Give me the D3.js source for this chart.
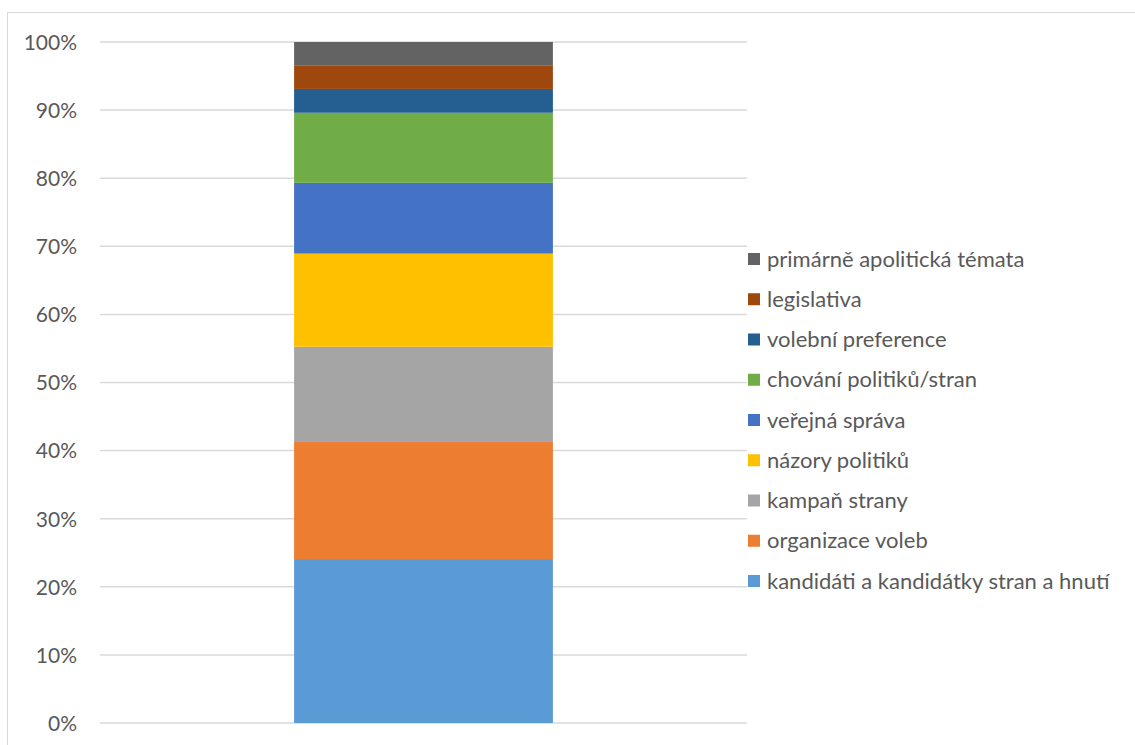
<!DOCTYPE html>
<html><head><meta charset="utf-8">
<script src="https://cdn.jsdelivr.net/npm/d3@7"></script>
<style>body{margin:0;background:#fff}svg{display:block}</style>
</head><body>
<svg id="c" width="1135" height="745"></svg>
<script>
const categories = ["kandidáti a kandidátky stran a hnutí","organizace voleb","kampaň strany","názory politiků","veřejná správa","chování politiků/stran","volební preference","legislativa","primárně apolitická témata"];
const values = [24.1,17.2,14.0,13.7,10.4,10.3,3.5,3.4,3.5];
const colors = ["#5B9BD5","#ED7D31","#A5A5A5","#FFC000","#4472C4","#70AD47","#255E91","#9E480E","#636363"];
const yTicks = [0,0.1,0.2,0.3,0.4,0.5,0.6,0.7,0.8,0.9,1.0];

const svg = d3.select("#c");
const font = "Lato, 'Open Sans', sans-serif";
svg.append("rect").attr("x",7.5).attr("y",12.5).attr("width",1140).attr("height",760)
  .attr("fill","none").attr("stroke","#d9d9d9").attr("stroke-width",1);

const y = d3.scaleLinear().domain([0,1]).range([723,42]);
const x = d3.scaleBand().domain(["s"]).range([100,747]).paddingInner(0.6).paddingOuter(0.3);

const row = {s:"s"}; categories.forEach((c,i)=>row[c]=values[i]);
const stack = d3.stack().keys(categories).offset(d3.stackOffsetExpand)([row]);

const g = svg.append("g");
g.selectAll("line.grid").data(yTicks).join("line")
  .attr("x1",100).attr("x2",747).attr("y1",d=>y(d)).attr("y2",d=>y(d))
  .attr("stroke","#d9d9d9").attr("stroke-width",1.5);

const yAxis = d3.axisLeft(y).tickValues(yTicks).tickFormat(d3.format(".0%")).tickSize(0).tickPadding(0);
const ax = svg.append("g").attr("transform","translate(77,0)").call(yAxis);
ax.select(".domain").remove();
ax.selectAll("text").attr("fill","#595959").style("font-family",font).style("font-size","21px").attr("dy","0.35em");

g.selectAll("rect.seg").data(stack).join("rect")
  .attr("x",x("s")).attr("width",x.bandwidth())
  .attr("y",d=>y(d[0][1])).attr("height",d=>y(d[0][0])-y(d[0][1]))
  .attr("fill",(d,i)=>colors[i]);

const legendOrder = categories.map((c,i)=>i).reverse();
const leg = svg.append("g");
const ly = d3.scalePoint().domain(legendOrder).range([259,581]);
legendOrder.forEach(i=>{
  const yy = ly(i);
  leg.append("rect").attr("x",748).attr("y",yy-6).attr("width",12).attr("height",12).attr("fill",colors[i]);
  leg.append("text").attr("x",767).attr("y",yy).attr("dy","0.35em").attr("fill","#595959")
    .style("font-family",font).style("font-size","22px").text(categories[i]);
});
</script>
</body></html>
